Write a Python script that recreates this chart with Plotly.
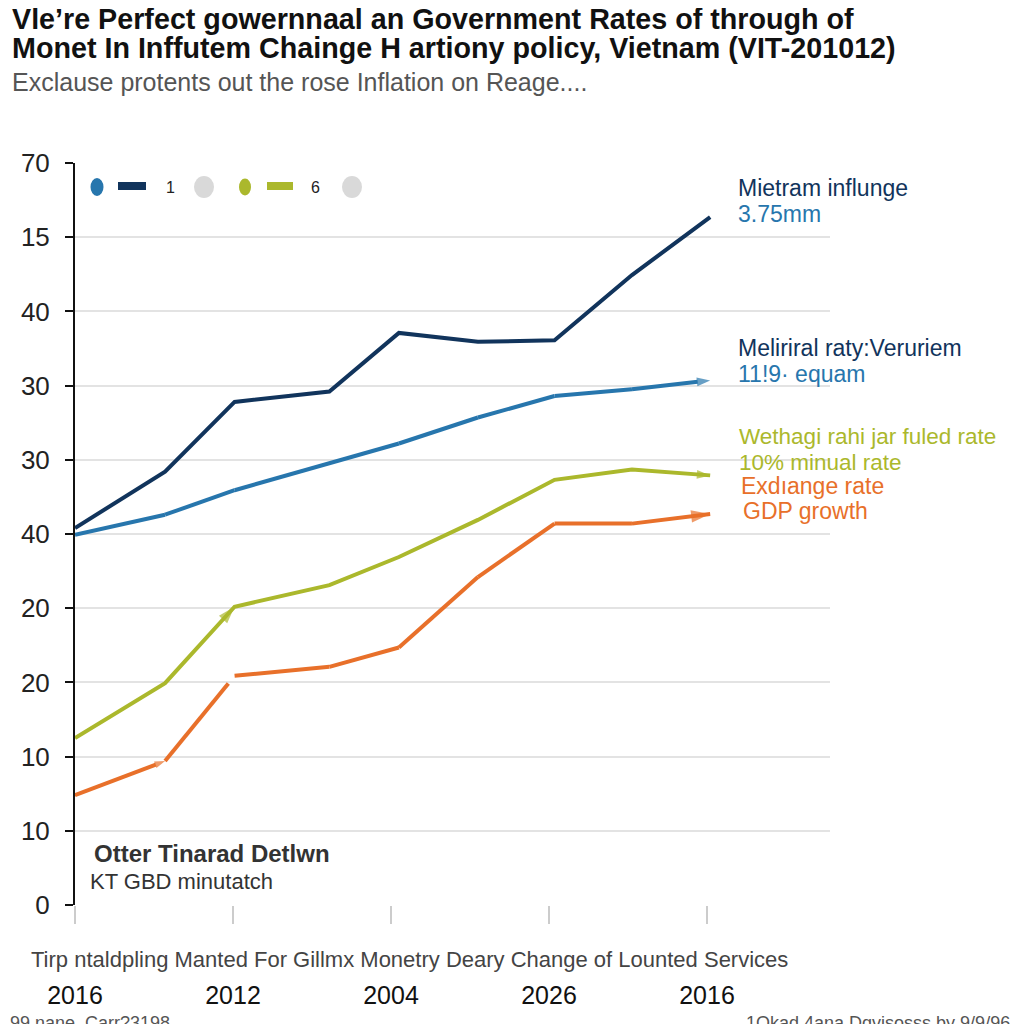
import plotly.graph_objects as go

# ---------------- data ----------------
x_pos = [0, 1.14, 2.02, 3.22, 4.1, 5.1, 6.07, 7.05, 8.04]
x_tickvals = [0, 2, 4, 6, 8]
x_ticktext = ["2016", "2012", "2004", "2026", "2016"]
y_tickvals = [0, 1, 2, 3, 4, 5, 6, 7, 8, 9, 10]
y_ticktext = ["0", "10", "10", "20", "20", "40", "30", "30", "40", "15", "70"]

inflation = [5.08, 5.84, 6.78, 6.92, 7.71, 7.59, 7.61, 8.49, 9.27]
policy_rate = [4.99, 5.26, 5.59, 5.96, 6.22, 6.57, 6.86, 6.95, 7.07]
lending_rate = [2.25, 2.99, 4.02, 4.31, 4.69, 5.19, 5.73, 5.87, 5.79]
gdp_growth = [1.48, 1.94, 3.09, 3.21, 3.47, 4.42, 5.14, 5.14, 5.27]

NAVY = "#11345c"
BLUE = "#2776ad"
GREEN = "#abb82c"
ORANGE = "#e8702a"

# ---------------- layout geometry ----------------
OFF = 8  # page body margin
W, H = 1024 - OFF, 1024 - OFF
L, R, T, B = 75, 830, 163, 905   # plot area in screenshot pixels
def px(x):
    return (x - L) / (R - L)
def py(y):
    return (B - y) / (B - T)

FONT = "Liberation Sans, Arial, sans-serif"

fig = go.Figure()

def series(y, color, name, symbols, sizes):
    fig.add_trace(go.Scatter(
        x=x_pos, y=y, mode="lines+markers", name=name,
        line=dict(color=color, width=4),
        marker=dict(color=color, symbol=symbols, size=sizes, angleref="previous",
                    line=dict(width=0)),
        showlegend=False, cliponaxis=False))

n = len(x_pos)
series(inflation, NAVY, "Inflation", ["circle"] * n, [0] * n)
series(policy_rate, BLUE, "Policy rate", ["circle"] * (n - 1) + ["arrow"],
       [8] + [0] * (n - 2) + [14])
series(lending_rate, GREEN, "Lending rate",
       ["circle", "circle", "arrow"] + ["circle"] * (n - 4) + ["arrow"],
       [6, 0, 18] + [0] * (n - 4) + [14])
series(gdp_growth, ORANGE, "GDP growth",
       ["circle", "arrow"] + ["circle"] * (n - 3) + ["arrow"],
       [7, 11] + [0] * (n - 3) + [20])

annotations = []
def text(x, y, s, size, color, bold=False, anchor="left", family=FONT):
    annotations.append(dict(
        xref="paper", yref="paper", x=px(x), y=py(y), text=("<b>%s</b>" % s) if bold else s,
        showarrow=False, xanchor=anchor, yanchor="middle",
        font=dict(size=size, color=color, family=family)))

# titles
text(10, 19, "Vle’re Perfect gowernnaal an Government Rates of through of", 28.7, "#111", True)
text(10, 48, "Monet In Inffutem Chainge H artiony policy, Vietnam (VIT-201012)", 28.7, "#111", True)
text(10, 82, "Exclause protents out the rose Inflation on Reage....", 25, "#555")

# right labels
text(736, 188, "Mietram influnge", 23, NAVY)
text(736, 214, "3.75mm", 23, BLUE)
text(736, 348, "Meliriral raty:Veruriem", 23, NAVY)
text(736, 374, "11!9· equam", 23, BLUE)
text(737, 436, "Wethagi rahi jar fuled rate", 22.5, GREEN)
text(737, 462, "10% minual rate", 22.5, GREEN)
text(739, 486, "Exdıange rate", 23, ORANGE)
text(741, 511, "GDP growth", 23, ORANGE)

# inner note
text(92, 853, "Otter Tinarad Detlwn", 24, "#333", True)
text(88, 881, "KT GBD minutatch", 22, "#333")

# x axis title
text(29, 960, "Tirp ntaldpling Manted For Gillmx Monetry Deary Change of Lounted Services", 22, "#444")

# footnotes (cut off at bottom in the reference)
text(8, 1023, "99 nane. Carr?3198", 18, "#555")
text(1012, 1023, "1Qkad 4ana Dqvisosss by 9/9/96", 18, "#555", anchor="right")

# legend strip
for s, x in [("1", 170), ("6", 315)]:
    text(x, 187, s, 16, "#222", anchor="center")

shapes = []
def ellipse(cx, cy, w, h, color):
    shapes.append(dict(type="circle", xref="paper", yref="paper",
                       x0=px(cx - w / 2), x1=px(cx + w / 2), y0=py(cy + h / 2), y1=py(cy - h / 2),
                       fillcolor=color, line=dict(width=0)))
def rect(x0, x1, y0, y1, color):
    shapes.append(dict(type="rect", xref="paper", yref="paper",
                       x0=px(x0), x1=px(x1), y0=py(y1), y1=py(y0),
                       fillcolor=color, line=dict(width=0)))
ellipse(97, 187, 13, 18, BLUE)
rect(118, 146, 182, 190, NAVY)
ellipse(204, 187, 20, 22, "#d9d9d9")
ellipse(245, 187, 12, 17, GREEN)
rect(267, 293, 182, 190, GREEN)
ellipse(352, 187, 20, 22, "#d9d9d9")

fig.update_layout(
    width=W, height=H,
    margin=dict(l=L - OFF, r=W - (R - OFF), t=T - OFF, b=H - (B - OFF)),
    paper_bgcolor="white", plot_bgcolor="white",
    font=dict(family=FONT),
    annotations=annotations, shapes=shapes,
    xaxis=dict(range=[0, (R - L) / 79.0], tickvals=x_tickvals, ticktext=x_ticktext,
               showgrid=False, zeroline=False, showline=False,
               ticks="outside", ticklen=18, tickwidth=2, tickcolor="#cccccc",
               ticklabelstandoff=50, tickfont=dict(size=25, color="#111")),
    yaxis=dict(range=[0, 10], tickvals=y_tickvals, ticktext=y_ticktext,
               showgrid=True, gridcolor="#e3e3e3", gridwidth=2, zeroline=False,
               showline=True, linecolor="#111", linewidth=2,
               ticks="outside", ticklen=8, tickwidth=2, tickcolor="#111",
               ticklabelstandoff=10, tickfont=dict(size=26, color="#222")),
)

fig.write_html("out.html")
